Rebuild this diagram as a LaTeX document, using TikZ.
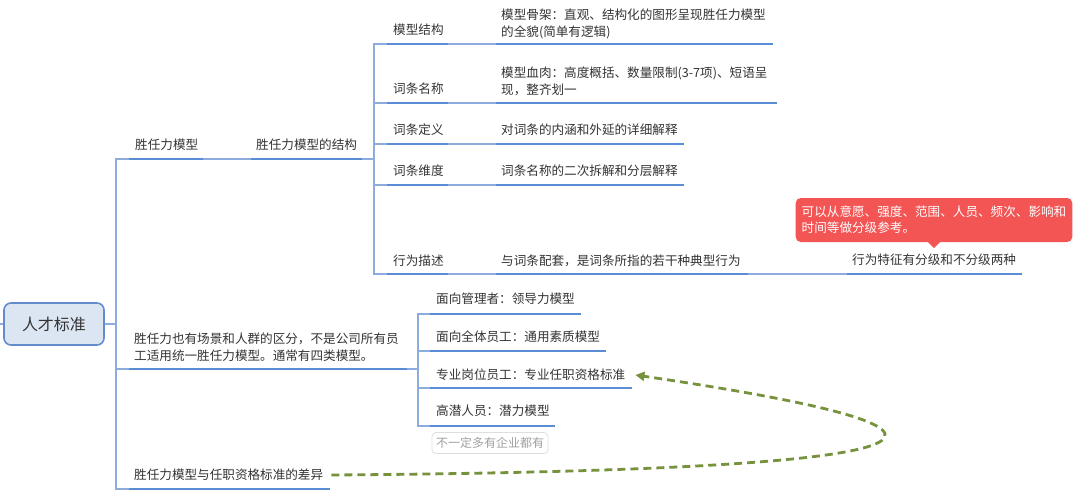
\documentclass[tikz,border=0pt]{standalone}
\usepackage{fontspec}
\setmainfont{Noto Sans CJK SC}
\usetikzlibrary{arrows.meta}
\definecolor{ulblue}{RGB}{91,141,212}
\definecolor{lnblue}{RGB}{140,172,222}
\definecolor{txt}{RGB}{51,51,51}
\definecolor{rootfill}{RGB}{220,230,243}
\definecolor{rootdraw}{RGB}{100,140,205}
\definecolor{callred}{RGB}{243,84,84}
\definecolor{olivegr}{RGB}{118,146,60}
\definecolor{graybd}{RGB}{222,222,222}
\definecolor{graytx}{RGB}{160,160,160}
\newcommand\ulinex[4]{\draw[ulstyle] (#2,#4) coordinate (#1-l) -- (#3,#4) coordinate (#1-r);}
\begin{document}
\begin{tikzpicture}[x=1pt,y=-1pt,
 lbl/.style={anchor=west,inner sep=0pt,text=txt,align=left,font=\fontsize{12.6}{17}\selectfont},
 ulstyle/.style={draw=ulblue,line width=2.6pt},
 conn/.style={draw=lnblue,line width=1.3pt},
]
\useasboundingbox (0,0) rectangle (1080,499);

% ---------- root ----------
\node[draw=rootdraw, fill=rootfill, line width=1.6pt, rounded corners=7pt,
      minimum width=100pt, minimum height=42pt, inner sep=0pt, text=txt,
      font=\fontsize{16}{18}\selectfont] (root) at (54,324) {人才标准};
\coordinate (stub) at (0,324);

% ---------- texts ----------
\node[lbl] (A) at (135,145) {胜任力模型};
\node[lbl] (B) at (134,347) {胜任力也有场景和人群的区分，不是公司所有员\\工适用统一胜任力模型。通常有四类模型。};
\node[lbl] (D) at (134,475) {胜任力模型与任职资格标准的差异};
\node[lbl] (C) at (256,145) {胜任力模型的结构};

\node[lbl] (s1) at (393,30) {模型结构};
\node[lbl] (s2) at (393,89) {词条名称};
\node[lbl] (s3) at (393,130) {词条定义};
\node[lbl] (s4) at (393,171) {词条维度};
\node[lbl] (s5) at (393,261) {行为描述};

\node[lbl] (d1) at (501,23.5) {模型骨架：直观、结构化的图形呈现胜任力模型\\的全貌(简单有逻辑)};
\node[lbl] (d2) at (501,81) {模型血肉：高度概括、数量限制(3-7项)、短语呈\\现，整齐划一};
\node[lbl] (d3) at (501,130) {对词条的内涵和外延的详细解释};
\node[lbl] (d4) at (501,171) {词条名称的二次拆解和分层解释};
\node[lbl] (d5) at (501,261) {与词条配套，是词条所指的若干种典型行为};
\node[lbl] (e) at (852,260) {行为特征有分级和不分级两种};

\node[lbl] (g1) at (436,299) {面向管理者：领导力模型};
\node[lbl] (g2) at (436,337) {面向全体员工：通用素质模型};
\node[lbl] (g3) at (436,375) {专业岗位员工：专业任职资格标准};
\node[lbl] (g4) at (436,411) {高潜人员：潜力模型};

\node[draw=graybd, line width=0.8pt, rounded corners=4pt, text=graytx,
      font=\fontsize{12}{14}\selectfont, minimum height=21pt, inner xsep=4pt]
      (note) at (490,443) {不一定多有企业都有};

% callout
\node[fill=callred, rounded corners=5pt, text=white, align=left, inner xsep=6pt,
      minimum height=44pt, font=\fontsize{12.6}{16}\selectfont]
      (tip) at (934,220) {可以从意愿、强度、范围、人员、频次、影响和\\时间等做分级参考。};
\fill[callred] ([xshift=-7pt,yshift=1pt]tip.south) -- ([yshift=-6pt]tip.south) -- ([xshift=7pt,yshift=1pt]tip.south) -- cycle;

% ---------- connectors (thin) ----------
\begin{scope}[on background layer/.style={}]
\coordinate (Al) at (129,159); \coordinate (Bl) at (129,369); \coordinate (Dl) at (129,489);
\coordinate (Cl) at (251,159);
\draw[conn] (stub) -- (root.west);
\draw[conn] (root.east) -- ++(12,0);
\draw[conn] (Al) -- ++(-13,0) |- (Dl);
\draw[conn] (Bl) -- ++(-13,0);
\draw[conn] (203,159) coordinate (Ar) -- (Cl);
\end{scope}

% underlines level 1-2
\ulinex{A}{129}{203}{159}
\ulinex{B}{129}{407}{369}
\ulinex{D}{129}{330}{489}
\ulinex{C}{251}{362}{159}
% level 3
\ulinex{s1}{387}{448}{44}
\ulinex{s2}{387}{448}{103}
\ulinex{s3}{387}{448}{144}
\ulinex{s4}{387}{448}{185}
\ulinex{s5}{387}{448}{274}
% level 4
\ulinex{d1}{496}{773}{44}
\ulinex{d2}{496}{777}{103}
\ulinex{d3}{496}{684}{144}
\ulinex{d4}{496}{684}{185}
\ulinex{d5}{496}{748}{274}
\ulinex{e}{847}{1022}{274}
% group 2
\ulinex{g1}{430}{581}{314}
\ulinex{g2}{430}{606}{351}
\ulinex{g3}{430}{632}{388}
\ulinex{g4}{430}{555}{426}

% thin connectors
\draw[conn] (C-r) -- ++(12,0);
\draw[conn] (s1-l) -- ++(-13,0) |- (s5-l);
\draw[conn] (s2-l) -- ++(-13,0);
\draw[conn] (s3-l) -- ++(-13,0);
\draw[conn] (s4-l) -- ++(-13,0);
\foreach \i in {1,...,5}{\draw[conn] (s\i-r) -- (d\i-l);}
\draw[conn] (d5-r) -- (e-l);
\draw[conn] (B-r) -- ++(11,0);
\draw[conn] (g1-l) -- ++(-12,0) |- (g4-l);
\draw[conn] (g2-l) -- ++(-12,0);
\draw[conn] (g3-l) -- ++(-12,0);

% dashed relation
\draw[olivegr, line width=2.8pt, dash pattern=on 8pt off 5pt,
      -{Triangle[length=9pt,width=9pt]}]
  ([xshift=8pt]D.east) .. controls (1000,470) and (1010,430) .. ([xshift=10pt]g3.east);
\end{tikzpicture}
\end{document}
